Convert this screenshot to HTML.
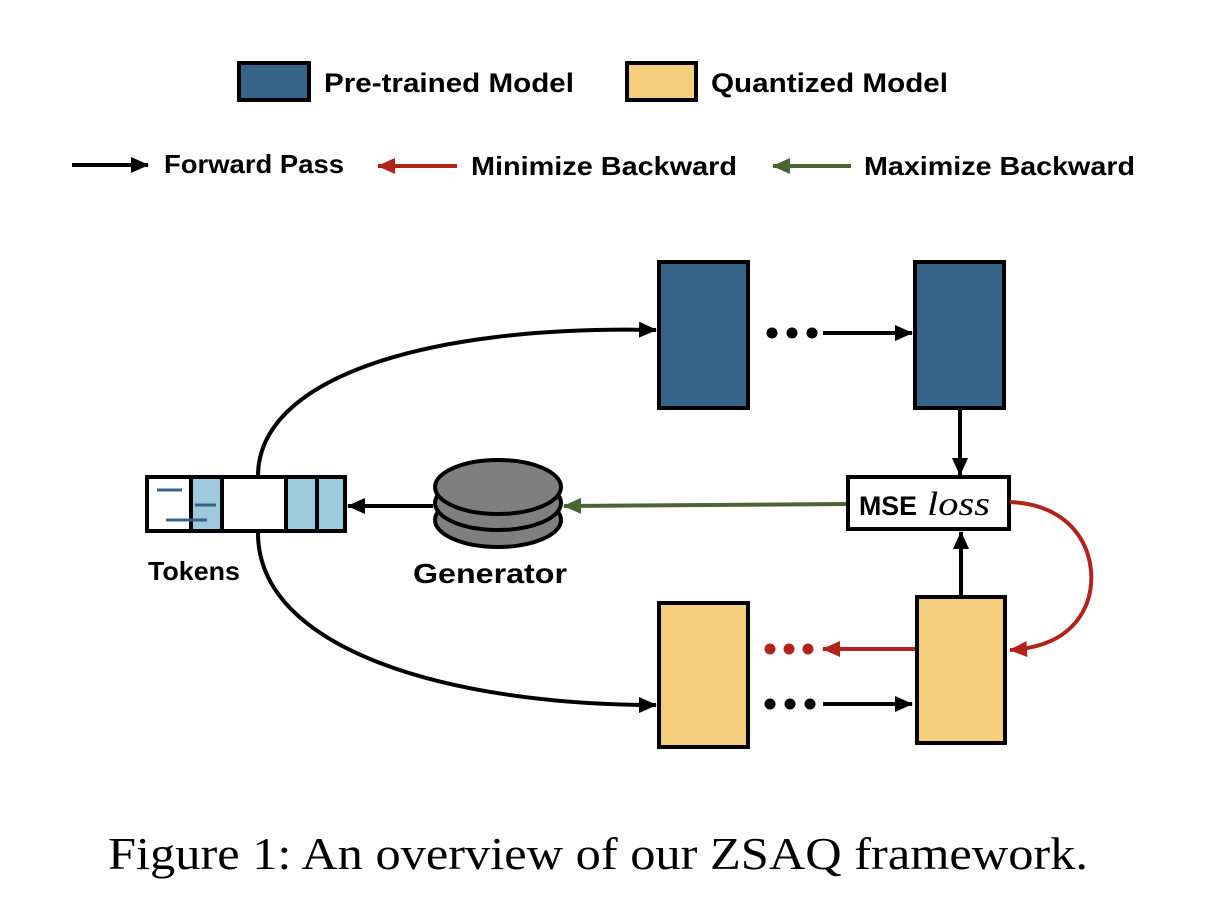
<!DOCTYPE html>
<html><head><meta charset="utf-8"><style>
html,body{margin:0;padding:0;background:#fff;}
svg{display:block;}
.b{font-family:"Liberation Sans",sans-serif;font-weight:bold;}
</style></head><body>
<svg width="1218" height="906" viewBox="0 0 1218 906" xmlns="http://www.w3.org/2000/svg">
<defs>
<marker id="ak2" markerWidth="18" markerHeight="16" refX="17" refY="8" orient="auto" markerUnits="userSpaceOnUse"><path d="M0,0 L18,8 L0,16 z" fill="#000"/></marker>
<marker id="ar" markerWidth="18" markerHeight="16" refX="17" refY="8" orient="auto" markerUnits="userSpaceOnUse"><path d="M0,0 L18,8 L0,16 z" fill="#b0241c"/></marker>
<marker id="ag" markerWidth="18" markerHeight="16" refX="17" refY="8" orient="auto" markerUnits="userSpaceOnUse"><path d="M0,0 L18,8 L0,16 z" fill="#4a6531"/></marker>
</defs>
<rect x="239" y="63" width="70" height="37" fill="#356488" stroke="#000" stroke-width="4"/>
<text x="324" y="92" class="b" font-size="27" textLength="250" lengthAdjust="spacingAndGlyphs">Pre-trained Model</text>
<rect x="627" y="63" width="69" height="37" fill="#f5ce7d" stroke="#000" stroke-width="4"/>
<text x="711" y="92" class="b" font-size="27" textLength="237" lengthAdjust="spacingAndGlyphs">Quantized Model</text>
<line x1="72" y1="165" x2="148" y2="165" stroke="#000" stroke-width="4" marker-end="url(#ak2)"/>
<text x="164" y="173" class="b" font-size="26" textLength="180" lengthAdjust="spacingAndGlyphs">Forward Pass</text>
<line x1="457" y1="166" x2="378" y2="166" stroke="#b0241c" stroke-width="4" marker-end="url(#ar)"/>
<text x="471" y="175" class="b" font-size="26" textLength="266" lengthAdjust="spacingAndGlyphs">Minimize Backward</text>
<line x1="851" y1="166" x2="773" y2="166" stroke="#4a6531" stroke-width="4" marker-end="url(#ag)"/>
<text x="864" y="175" class="b" font-size="26" textLength="271" lengthAdjust="spacingAndGlyphs">Maximize Backward</text>

<rect x="659" y="262" width="89" height="146" fill="#356488" stroke="#000" stroke-width="4"/>
<rect x="915" y="262" width="89" height="146" fill="#356488" stroke="#000" stroke-width="4"/>
<circle cx="772" cy="333" r="5.5" fill="#000"/><circle cx="792" cy="333" r="5.5" fill="#000"/><circle cx="812" cy="333" r="5.5" fill="#000"/>
<line x1="823" y1="333" x2="912" y2="333" stroke="#000" stroke-width="4" marker-end="url(#ak2)"/>
<line x1="960" y1="409" x2="960" y2="475" stroke="#000" stroke-width="4" marker-end="url(#ak2)"/>

<rect x="848" y="477" width="161" height="52" fill="#fff" stroke="#000" stroke-width="4"/>
<text x="859" y="515" class="b" font-size="27" textLength="58" lengthAdjust="spacingAndGlyphs">MSE</text>
<text x="927" y="515" font-family="Liberation Serif,serif" font-style="italic" font-size="34" textLength="63" lengthAdjust="spacingAndGlyphs">loss</text>

<rect x="659" y="603" width="89" height="144" fill="#f5ce7d" stroke="#000" stroke-width="4"/>
<rect x="917" y="597" width="88" height="146" fill="#f5ce7d" stroke="#000" stroke-width="4"/>
<line x1="961" y1="596" x2="961" y2="532" stroke="#000" stroke-width="4" marker-end="url(#ak2)"/>
<circle cx="770" cy="649" r="5.5" fill="#b0241c"/><circle cx="789" cy="649" r="5.5" fill="#b0241c"/><circle cx="808" cy="649" r="5.5" fill="#b0241c"/>
<line x1="915" y1="649" x2="823" y2="649" stroke="#b0241c" stroke-width="4" marker-end="url(#ar)"/>
<circle cx="770" cy="704" r="5.5" fill="#000"/><circle cx="790" cy="704" r="5.5" fill="#000"/><circle cx="810" cy="704" r="5.5" fill="#000"/>
<line x1="823" y1="704" x2="912" y2="704" stroke="#000" stroke-width="4" marker-end="url(#ak2)"/>
<path d="M1010,502 C1080,505 1100,560 1088,600 C1076,635 1045,648 1010,650" fill="none" stroke="#b0241c" stroke-width="4" marker-end="url(#ar)"/>

<line x1="846" y1="504" x2="564" y2="506" stroke="#4a6531" stroke-width="4" marker-end="url(#ag)"/>

<ellipse cx="498" cy="520" rx="63" ry="27" fill="#7f7f7f" stroke="#000" stroke-width="4"/>
<ellipse cx="498" cy="503" rx="63" ry="27" fill="#7f7f7f" stroke="#000" stroke-width="4"/>
<ellipse cx="498" cy="487" rx="63" ry="27" fill="#7f7f7f" stroke="#000" stroke-width="4"/>
<text x="413" y="583" class="b" font-size="28" textLength="154" lengthAdjust="spacingAndGlyphs">Generator</text>
<line x1="433" y1="506" x2="348" y2="506" stroke="#000" stroke-width="4" marker-end="url(#ak2)"/>

<path d="M258,476 C258,380 420,325 656,330" fill="none" stroke="#000" stroke-width="4" marker-end="url(#ak2)"/>
<path d="M258,533 C258,650 450,705 656,705" fill="none" stroke="#000" stroke-width="4" marker-end="url(#ak2)"/>

<rect x="147" y="477" width="198" height="54" fill="#fff" stroke="#000" stroke-width="4"/>
<rect x="191" y="479" width="30" height="50" fill="#9ecbdb"/>
<rect x="287" y="479" width="56" height="50" fill="#9ecbdb"/>
<line x1="191" y1="477" x2="191" y2="531" stroke="#000" stroke-width="4"/>
<line x1="222" y1="477" x2="222" y2="531" stroke="#000" stroke-width="4"/>
<line x1="286" y1="477" x2="286" y2="531" stroke="#000" stroke-width="4"/>
<line x1="317" y1="477" x2="317" y2="531" stroke="#000" stroke-width="4"/>
<line x1="157" y1="490" x2="182" y2="490" stroke="#356488" stroke-width="3"/>
<line x1="195" y1="505" x2="216" y2="505" stroke="#356488" stroke-width="3"/>
<line x1="166" y1="520" x2="207" y2="520" stroke="#356488" stroke-width="3"/>
<text x="148" y="580" class="b" font-size="26" textLength="92" lengthAdjust="spacingAndGlyphs">Tokens</text>

<text x="108" y="869" font-family="Liberation Serif,serif" font-size="46" textLength="980" lengthAdjust="spacingAndGlyphs">Figure 1: An overview of our ZSAQ framework.</text>
</svg>
</body></html>
